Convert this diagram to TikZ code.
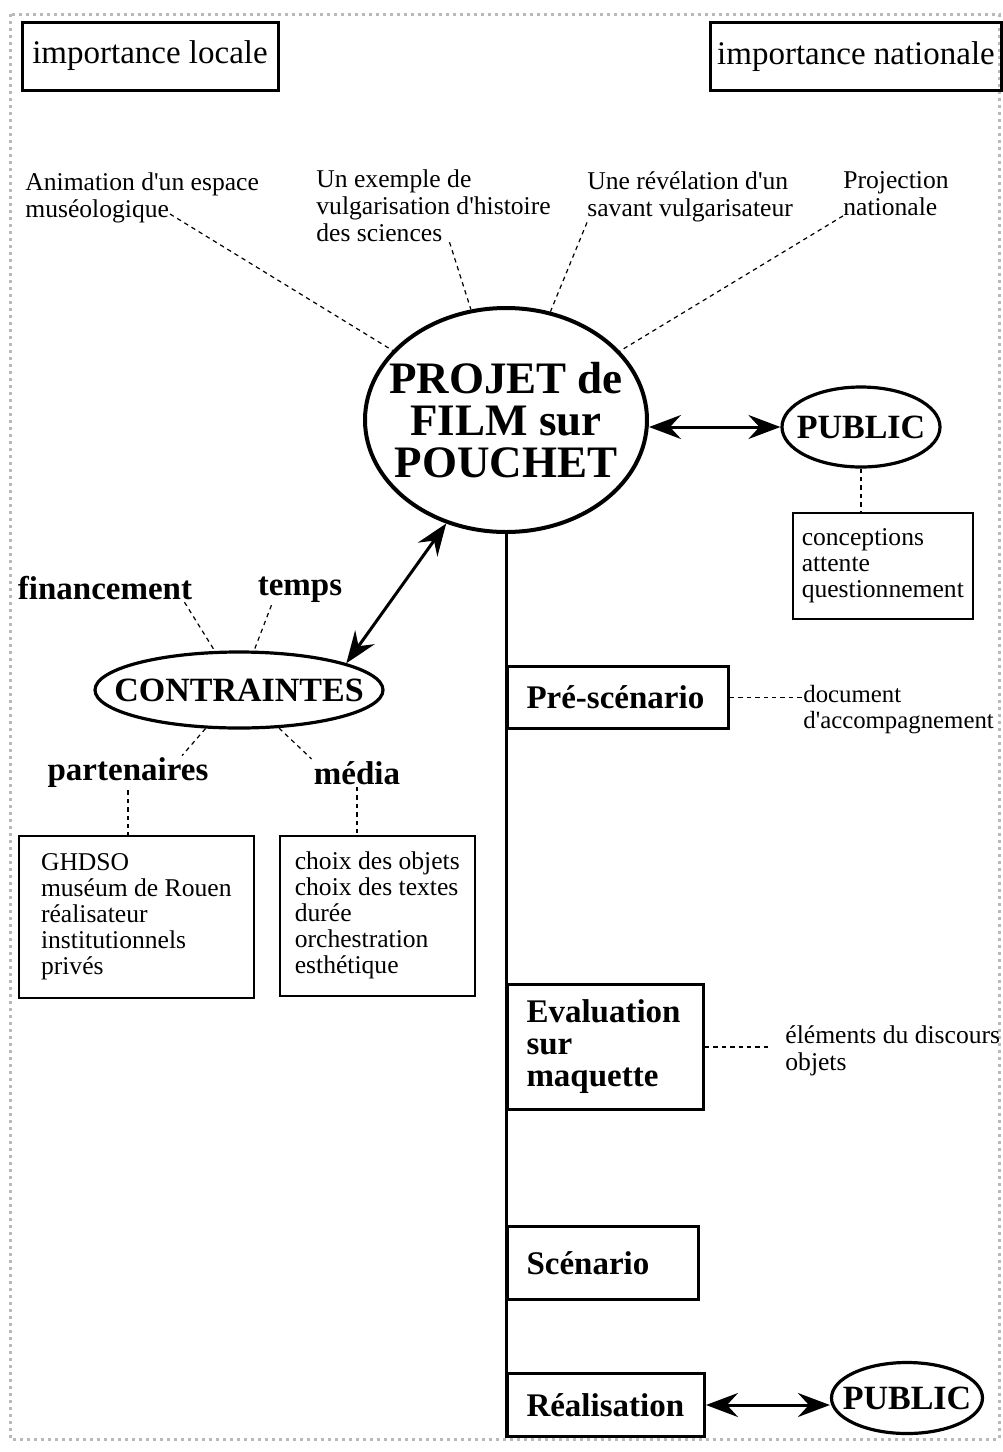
\documentclass[tikz,border=0pt]{standalone}
\usepackage{fontspec}
\setmainfont{Liberation Serif}
\usetikzlibrary{shapes.geometric,arrows.meta}

\begin{document}
\begin{tikzpicture}[x=0.5pt,y=-0.5pt,
    heading/.style={draw,line width=1.5pt,minimum height=34pt,
      font=\fontsize{16.5}{17}\selectfont},
    stage/.style={draw,line width=1.5pt,anchor=north west,align=left,
      inner xsep=9.5pt,font=\bfseries\fontsize{16.5}{16}\selectfont},
    listbox/.style={draw,line width=0.8pt,anchor=north west,align=left,
      font=\fontsize{12.8}{13}\selectfont},
    note/.style={align=left,inner sep=0pt,font=\fontsize{12.8}{13.4}\selectfont},
    keyword/.style={inner sep=1pt,font=\bfseries\fontsize{16.5}{17}\selectfont},
    % ellipses keep their size, the text sits in a label
    bubble/.style={ellipse,draw,line width=1.6pt,inner sep=0pt},
    bubbletext/.style={font=\bfseries\fontsize{17}{17}\selectfont},
    link/.style={dash pattern=on 2.2pt off 2pt,line width=0.6pt},
    twoway/.style={{Stealth[length=16pt,width=12pt,inset=5.5pt]}-{Stealth[length=16pt,width=12pt,inset=5.5pt]},
      line width=1.5pt},
    spine/.style={line width=1.5pt}]

  \useasboundingbox (0,0) rectangle (1002,1452);
  \draw[gray!55,line width=1.5pt,dotted] (10,14) rectangle (999,1439);

  % top
  \node[heading,minimum width=128pt] (local) at (150,56) {importance locale};
  \node[heading,minimum width=144pt] (national) at (856,56.5) {importance nationale};

  \node[note,anchor=west] (anim) at (25,197.5) {Animation d\textquotesingle un espace\\muséologique};
  \node[note,anchor=west] (exemple) at (316,206) {Un exemple de\\vulgarisation d\textquotesingle histoire\\des sciences};
  \node[note,anchor=west] (revel) at (587,197) {Une révélation d\textquotesingle un\\savant vulgarisateur};
  \node[note,anchor=west] (proj) at (843,193.5) {Projection\\nationale};
  \coordinate (animEnd) at (170,214);

  % centre
  \node[bubble,line width=2pt,minimum width=141pt,minimum height=112pt,
    label={[font=\bfseries\fontsize{22.5}{21}\selectfont,align=center]center:PROJET de\\FILM sur\\POUCHET}]
    (main) at (506,420) {};
  \node[bubble,minimum width=79pt,minimum height=40pt,
    label={[bubbletext]center:PUBLIC}] (pub) at (861,427) {};
  \node[listbox,minimum width=90pt,minimum height=53pt] (attente) at (792,512)
    {conceptions\\attente\\questionnement};

  % contraintes
  \node[keyword] (fin) at (105,588) {financement};
  \node[keyword] (temps) at (300,590) {temps};
  \node[bubble,minimum width=144pt,minimum height=38pt,
    label={[bubbletext]center:CONTRAINTES}] (cons) at (239,690) {};
  \node[keyword] (part) at (128,773) {partenaires};
  \node[keyword] (media) at (357,773) {média};
  \node[listbox,minimum width=117.5pt,minimum height=81pt] (partbox) at (18,835)
    {GHDSO\\muséum de Rouen\\réalisateur\\institutionnels\\privés};
  \node[listbox,minimum width=97.5pt,minimum height=80pt] (mediabox) at (279,835)
    {choix des objets\\choix des textes\\durée\\orchestration\\esthétique};

  % etapes
  \node[stage,text width=91.5pt,minimum height=31pt] (pre) at (506,665) {Pré-scénario};
  \node[note,anchor=west,font=\fontsize{12.4}{13}\selectfont] (doc) at (803,709.5) {document\\d\textquotesingle accompagnement};
  \node[stage,text width=79pt,minimum height=62.5pt] (eval) at (506,983) {Evaluation\\sur\\maquette};
  \node[note,anchor=west] (elem) at (785,1050.5) {éléments du discours\\objets};
  \node[stage,text width=76.5pt,minimum height=36.5pt] (scen) at (506,1225) {Scénario};
  \node[stage,text width=79.5pt,minimum height=31.5pt] (real) at (506,1372) {Réalisation};
  \node[bubble,minimum width=75.5pt,minimum height=35.5pt,
    label={[bubbletext]center:PUBLIC}] (pub2) at (907,1398) {};

  % connectors
  \draw[link] (animEnd) -- (main);
  \draw[link] ([xshift=8pt]exemple.south) -- (main);
  \draw[link] (revel.south west) -- (main);
  \draw[link] (proj.south west) -- (main);
  \draw[twoway] (main.east |- pub.west) -- (pub.west);
  \draw[link] (pub.south) -- (pub.south |- attente.north);
  \draw[twoway] (cons.14) -- (main.240);
  \draw[link] ([xshift=-5pt]fin.south east) -- (cons);
  \draw[link] ([xshift=8pt]temps.south west) -- (cons);
  \draw[link] (cons) -- ([xshift=27pt]part.north);
  \draw[link] (cons) -- (media.north west);
  \draw[link] (part.south) -- (part.south |- partbox.north);
  \draw[link] (media.south) -- (media.south |- mediabox.north);
  \draw[spine] (main.south) -- (real.south west);
  \draw[link] (pre.east) -- (pre.east -| doc.west);
  \draw[link] (eval.east) -- ([xshift=-8pt]eval.east -| elem.west);
  \draw[twoway] (real.east) -- (real.east -| pub2.west);
\end{tikzpicture}
\end{document}
